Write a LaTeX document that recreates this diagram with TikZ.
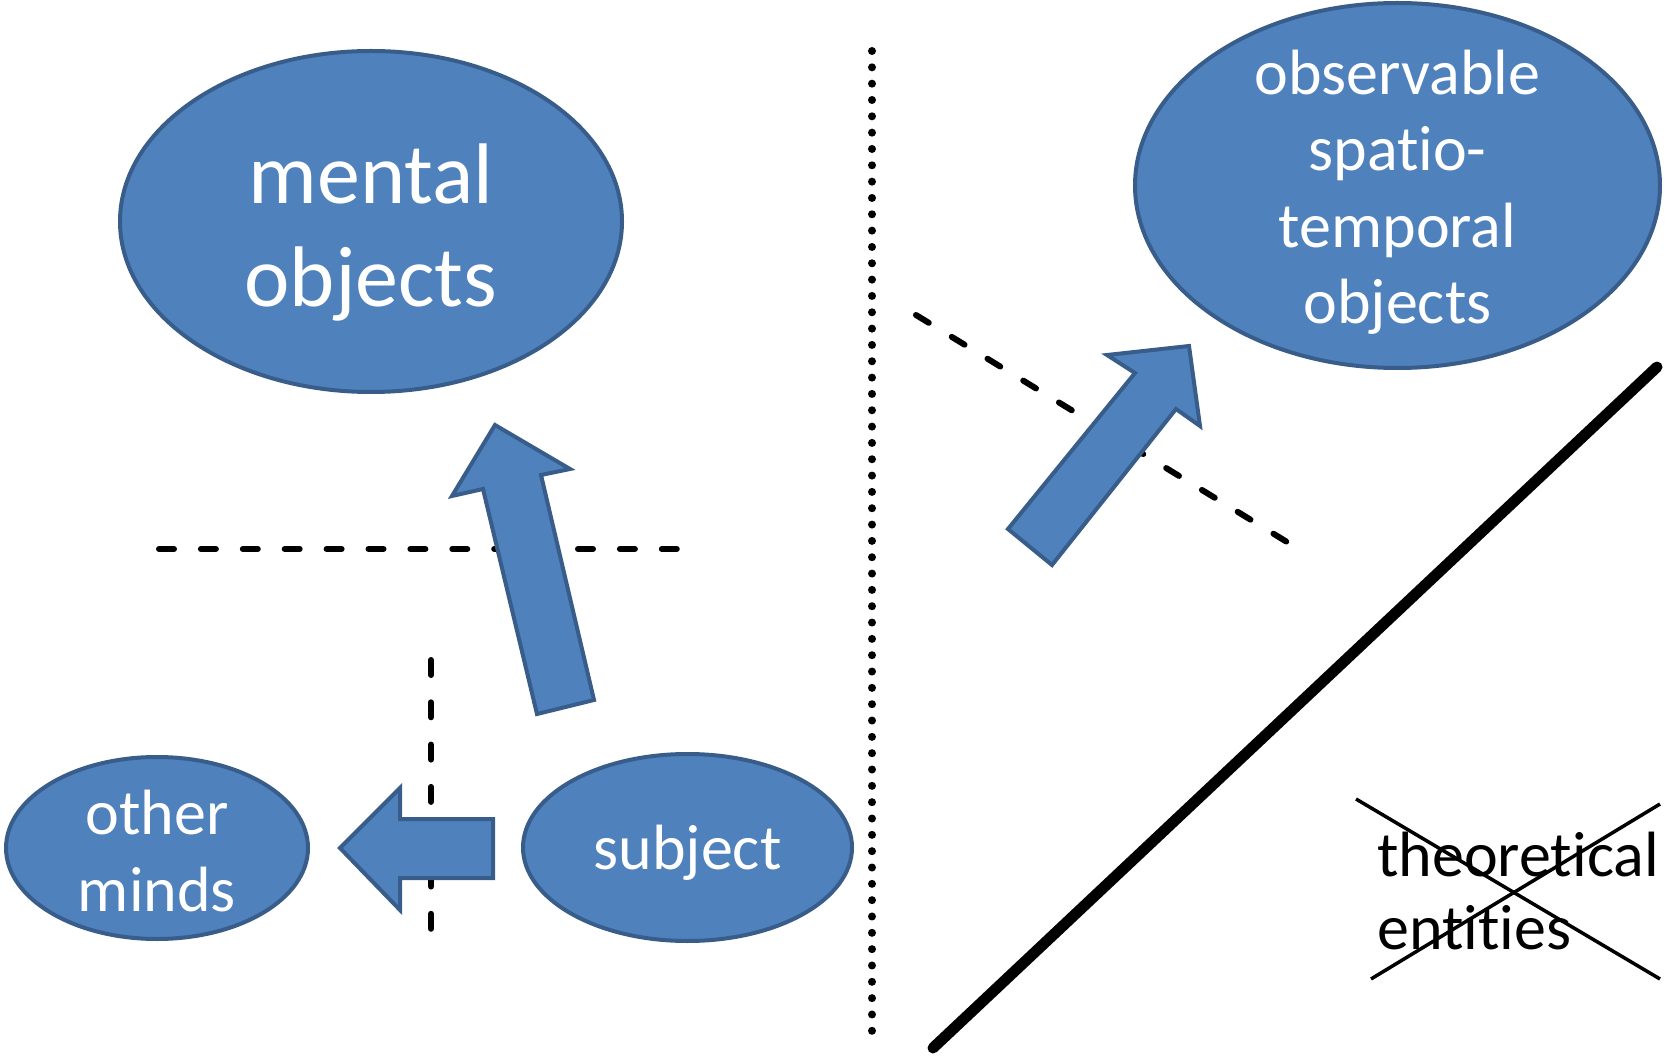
\documentclass[tikz,border=0pt]{standalone}
\usepackage{fontspec}
\setmainfont{Carlito}[Ligatures=NoCommon]
\definecolor{blobfill}{HTML}{4F81BD}
\definecolor{blobline}{HTML}{385D8A}
\usetikzlibrary{shapes.geometric}
\tikzset{
  blob/.style={ellipse, draw=blobline, fill=blobfill, line width=4pt, inner sep=0pt},
  blobtext/.style={text=white, align=center, inner sep=0pt},
  blockarrow/.style={draw=blobline, fill=blobfill, line width=4pt, line join=miter},
  cutline/.style={black, line width=6pt, line cap=round, dash pattern=on 15pt off 26.9pt},
  dotline/.style={black, line width=8pt, line cap=round, dash pattern=on 0pt off 16.33pt},
  crossline/.style={black, line width=3.5pt},
}
\begin{document}
\begin{tikzpicture}[x=1pt,y=-1pt]
\useasboundingbox (0,0) rectangle (1666,1056);

% dividing lines
\coordinate (dvt) at (872,51);
\coordinate (dvb) at (872,1047);
\draw[dotline] (dvt) -- (dvb);

\coordinate (hl) at (159,549);
\coordinate (hr) at (677,549);
\draw[cutline] (hl) -- (hr);

\coordinate (vt) at (431,660);
\coordinate (vb) at (431,929);
\draw[cutline, dash pattern=on 15pt off 27.3pt] (vt) -- (vb);

\coordinate (dl) at (916,315);
\coordinate (dr) at (1287,542);
\draw[cutline] (dl) -- (dr);

% heavy diagonal stroke
\coordinate (sb) at (933,1048);
\coordinate (st) at (1657,367);
\draw[black, line width=11pt, line cap=round] (sb) -- (st);

% ellipses (yshift is in canvas units, so negative moves text down)
\node[blob, minimum width=502pt, minimum height=341pt] (mental) at (371,221.5) {};
\node[blobtext, font=\fontsize{86}{103}\selectfont] (mentalt) at ([yshift=-11pt]mental.center) {mental\\objects};

\node[blob, minimum width=525pt, minimum height=365pt] (obs) at (1397.5,185.5) {};
\node[blobtext, font=\fontsize{64}{76.5}\selectfont] (obst) at ([yshift=-7pt]obs.center) {observable\\spatio-\\temporal\\objects};

\node[blob, minimum width=302pt, minimum height=182pt] (minds) at (157,848) {};
\node[blobtext, font=\fontsize{64}{77.5}\selectfont] (mindst) at ([yshift=-3pt]minds.center) {other\\minds};

\node[blob, minimum width=329pt, minimum height=187pt] (subject) at (687.5,847.5) {};
\node[blobtext, font=\fontsize{64}{77.5}\selectfont] (subjectt) at ([yshift=-5pt]subject.center) {subject};

% block arrows
\draw[blockarrow] (495,425) -- (570,469) -- (541,475) -- (594,700) -- (537,714)
  -- (483,489) -- (452,496) -- cycle;
\draw[blockarrow] (340,848) -- (400,788) -- (400,819) -- (493,819) -- (493,878)
  -- (400,878) -- (400,910) -- cycle;
\draw[blockarrow] (1189,346) -- (1200,426) -- (1176,409) -- (1052,565) -- (1008,529)
  -- (1135,373) -- (1107,355) -- cycle;

% struck-out label
\node[anchor=base west, inner sep=0pt, font=\fontsize{64}{72}\selectfont] (theo) at (1377,876) {theoretical};
\node[anchor=base west, inner sep=0pt, font=\fontsize{64}{72}\selectfont] (ent) at (1377,949) {entities};
\coordinate (x1) at (1356,799);
\coordinate (x2) at (1660,979);
\coordinate (x3) at (1371,979);
\coordinate (x4) at (1660,804);
\draw[crossline] (x1) -- (x2);
\draw[crossline] (x3) -- (x4);
\end{tikzpicture}
\end{document}
